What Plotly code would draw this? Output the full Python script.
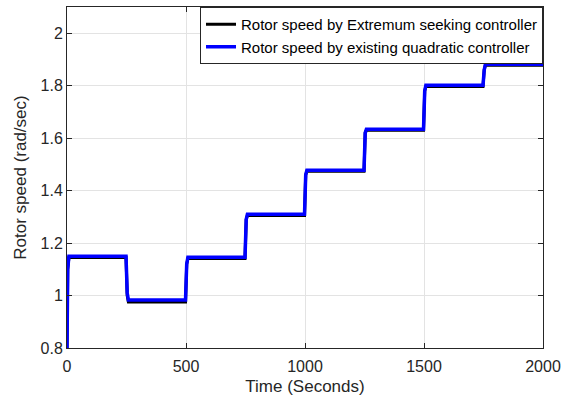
import plotly.graph_objects as go

# Time breakpoints (s) and rotor speed (rad/sec)
time_pts = [0, 3, 8, 248, 253, 258, 498, 503, 508, 748, 753, 758,
            998, 1003, 1008, 1248, 1253, 1258, 1498, 1503, 1508,
            1748, 1753, 1758, 2000]
esc_speed = [0.80, 1.10, 1.145, 1.145, 1.00, 0.975, 0.975, 1.12, 1.141, 1.141, 1.29, 1.305,
             1.305, 1.46, 1.474, 1.474, 1.62, 1.630, 1.630, 1.78, 1.797, 1.797,
             1.86, 1.878, 1.878]
quad_speed = [0.80, 1.10, 1.150, 1.150, 1.01, 0.983, 0.983, 1.12, 1.146, 1.146, 1.29, 1.310,
              1.310, 1.46, 1.478, 1.478, 1.62, 1.634, 1.634, 1.78, 1.802, 1.802,
              1.86, 1.882, 1.882]

x_ticks = [0, 500, 1000, 1500, 2000]
y_ticks = [0.8, 1, 1.2, 1.4, 1.6, 1.8, 2]
y_tick_labels = ["0.8", "1", "1.2", "1.4", "1.6", "1.8", "2"]

FONT = "Liberation Sans, Arial"
fig = go.Figure()
fig.add_trace(go.Scatter(x=time_pts, y=esc_speed, mode="lines",
                         name="Rotor speed by Extremum seeking controller",
                         line=dict(color="black", width=3)))
fig.add_trace(go.Scatter(x=time_pts, y=quad_speed, mode="lines",
                         name="Rotor speed by existing quadratic controller",
                         line=dict(color="#0000ff", width=3.5)))

axis_common = dict(showline=True, linecolor="#262626", linewidth=1, mirror="ticks",
                   ticks="inside", ticklen=5, tickcolor="#262626",
                   showgrid=True, gridcolor="#e3e3e3", gridwidth=1, zeroline=False,
                   automargin=False,
                   tickfont=dict(family=FONT, size=16, color="#262626"))

fig.update_xaxes(range=[0, 2000], tickvals=x_ticks, ticklabelstandoff=4,
                 title=dict(text="Time (Seconds)", standoff=5,
                            font=dict(family=FONT, size=17, color="#262626")),
                 **axis_common)
fig.update_yaxes(range=[0.8, 2.1], tickvals=y_ticks, ticktext=y_tick_labels,
                 title=dict(text="Rotor speed (rad/sec)", standoff=9,
                            font=dict(family=FONT, size=17, color="#262626")),
                 **axis_common)

fig.update_layout(
    width=580, height=398,
    margin=dict(l=67, r=37, t=7, b=50),
    paper_bgcolor="white", plot_bgcolor="white",
    showlegend=True,
    legend=dict(x=1, y=1, xanchor="right", yanchor="top",
                bgcolor="white", bordercolor="#262626", borderwidth=1,
                font=dict(family=FONT, size=15, color="black"),
                tracegroupgap=0, itemwidth=30),
)

fig.write_html("out.html")
